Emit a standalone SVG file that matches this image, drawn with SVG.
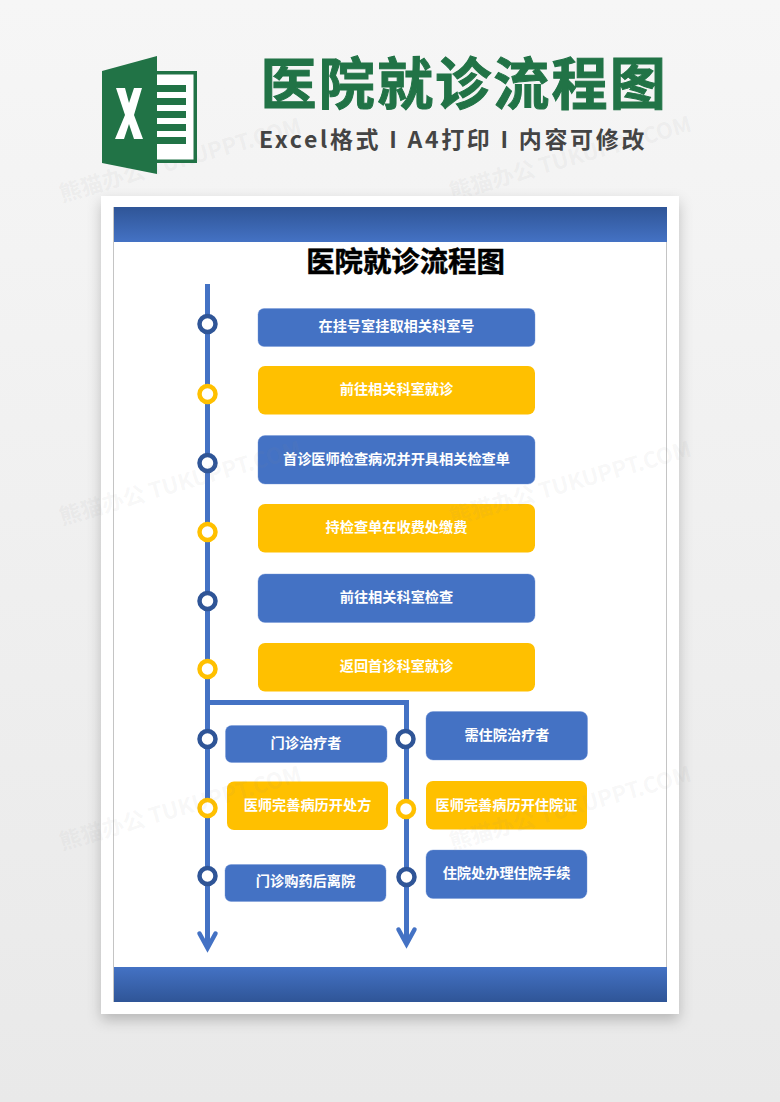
<svg xmlns="http://www.w3.org/2000/svg" width="780" height="1102" viewBox="0 0 780 1102">
<style>
text{font-family:"Noto Sans CJK SC","Noto Sans",sans-serif;font-weight:700}
.t{fill:#fff;font-size:14.2px;text-anchor:middle;dominant-baseline:central}
.b{fill:#4472c4;stroke:#6f93d6;stroke-width:.4}
.y{fill:#ffc000}
.db{fill:#fff;stroke:#2f5597;stroke-width:4.500}
.dy{fill:#fff;stroke:#ffc000;stroke-width:4.500}
.w{fill:#8f8f8f;fill-opacity:.08;font-size:22px}
.l{fill:none;stroke:#4472c4;stroke-width:5}
.a{fill:none;stroke:#4472c4;stroke-width:4.500;stroke-linecap:round;stroke-linejoin:miter}
</style>
<defs>
<linearGradient id="bg" x1="0" y1="0" x2="0" y2="1"><stop offset="0" stop-color="#f6f6f6"/><stop offset="1" stop-color="#e9e9e9"/></linearGradient>
<linearGradient id="top" x1="0" y1="0" x2="0" y2="1"><stop offset="0" stop-color="#2f5597"/><stop offset="1" stop-color="#4472c4"/></linearGradient>
<linearGradient id="bot" x1="0" y1="0" x2="0" y2="1"><stop offset="0" stop-color="#4472c4"/><stop offset="1" stop-color="#2f5597"/></linearGradient>
<filter id="sh" x="-10%" y="-10%" width="120%" height="120%"><feDropShadow dx="0" dy="6" stdDeviation="7" flood-color="#000" flood-opacity=".22"/></filter>
</defs>
<rect width="780" height="1102" fill="url(#bg)"/>
<g id="watermarks">
<text class="w" transform="translate(62 202) rotate(-16)">熊猫办公 TUKUPPT.COM</text>
<text class="w" transform="translate(452 200) rotate(-16)">熊猫办公 TUKUPPT.COM</text>
</g>
<g id="header">
<g id="excel-logo">
<path d="M102 71 157 56V174L102 163Z" fill="#217346"/>
<path d="M157 71H197V163H157Z" fill="#217346"/>
<path d="M157 74.500H193.500V159.500H157Z" fill="#fff"/>
<path d="M157 85H186V92H157ZM157 98H186V105H157ZM157 111H186V118H157ZM157 124H186V131H157ZM157 137H186V144H157Z" fill="#217346"/>
<path d="M116 88H125L129 103 134 88H142L134 115 143 139H134L129 124 124 139H115L125 115Z" fill="#fff"/>
</g>
<text x="260.500" y="104" font-size="56" letter-spacing="2.200" fill="#217346" stroke="#217346" stroke-width="1">医院就诊流程图</text>
<text x="259" y="148" font-size="23" letter-spacing="2.700" fill="#444">Excel格式 I A4打印 I 内容可修改</text>
</g>
<g id="sheet">
<rect x="101" y="196" width="578" height="818" fill="#fff" filter="url(#sh)"/>
<rect x="113.500" y="207.500" width="553" height="794" fill="#fff" stroke="#c4c4c4"/>
<rect x="114" y="207" width="553" height="35" fill="url(#top)"/>
<rect x="114" y="967" width="553" height="35" fill="url(#bot)"/>
<text x="405.500" y="259" font-size="28.400" text-anchor="middle" dominant-baseline="central" fill="#000" stroke="#000" stroke-width=".5">医院就诊流程图</text>
</g>
<g id="connectors">
<path class="l" d="M207.500 284V945"/>
<path class="l" d="M207 702.500H406.500V941"/>
<path class="a" d="M199.500 933.500 207.500 948 215.500 933.500"/>
<path class="a" d="M398.500 929.500 406.500 944 414.500 929.500"/>
</g>
<g id="n1"><circle class="db" cx="207.500" cy="324" r="8"/><rect class="b" x="258" y="308.500" width="277" height="38" rx="6"/><text class="t" x="396.500" y="325">在挂号室挂取相关科室号</text></g>
<g id="n2"><circle class="dy" cx="207.500" cy="394" r="8"/><rect class="y" x="258" y="366" width="277" height="48.500" rx="7"/><text class="t" x="396.500" y="388">前往相关科室就诊</text></g>
<g id="n3"><circle class="db" cx="207.500" cy="463" r="8"/><rect class="b" x="258" y="435.500" width="277" height="48.500" rx="7"/><text class="t" x="396.500" y="458">首诊医师检查病况并开具相关检查单</text></g>
<g id="n4"><circle class="dy" cx="207.500" cy="532" r="8"/><rect class="y" x="258" y="504" width="277" height="48.500" rx="7"/><text class="t" x="396.500" y="526">持检查单在收费处缴费</text></g>
<g id="n5"><circle class="db" cx="207.500" cy="601" r="8"/><rect class="b" x="258" y="574" width="277" height="48.500" rx="7"/><text class="t" x="396.500" y="596">前往相关科室检查</text></g>
<g id="n6"><circle class="dy" cx="207.500" cy="669" r="8"/><rect class="y" x="258" y="643" width="277" height="48.500" rx="7"/><text class="t" x="396.500" y="665">返回首诊科室就诊</text></g>
<g id="n7"><circle class="db" cx="207.500" cy="739" r="8"/><rect class="b" x="225.500" y="725.500" width="161.500" height="37" rx="6"/><text class="t" x="306" y="742">门诊治疗者</text></g>
<g id="n8"><circle class="dy" cx="207.500" cy="808" r="8"/><rect class="y" x="227" y="781.500" width="161" height="48.500" rx="7"/><text class="t" x="307.500" y="804">医师完善病历开处方</text></g>
<g id="n9"><circle class="db" cx="207.500" cy="876" r="8"/><rect class="b" x="225" y="864.500" width="161" height="37" rx="6"/><text class="t" x="305.500" y="880">门诊购药后离院</text></g>
<g id="n10"><circle class="db" cx="405.500" cy="739" r="8"/><rect class="b" x="426" y="711.500" width="161.500" height="48.500" rx="7"/><text class="t" x="507" y="734">需住院治疗者</text></g>
<g id="n11"><circle class="dy" cx="406" cy="809" r="8"/><rect class="y" x="426" y="781" width="161" height="48.500" rx="7"/><text class="t" x="506.500" y="804">医师完善病历开住院证</text></g>
<g id="n12"><circle class="db" cx="406.500" cy="877" r="8"/><rect class="b" x="426" y="850" width="161" height="48.500" rx="7"/><text class="t" x="506.500" y="872">住院处办理住院手续</text></g>
<g id="watermarks-over">
<text class="w" transform="translate(62 525) rotate(-16)">熊猫办公 TUKUPPT.COM</text>
<text class="w" transform="translate(452 525) rotate(-16)">熊猫办公 TUKUPPT.COM</text>
<text class="w" transform="translate(62 850) rotate(-16)">熊猫办公 TUKUPPT.COM</text>
<text class="w" transform="translate(452 850) rotate(-16)">熊猫办公 TUKUPPT.COM</text>
</g>
</svg>
